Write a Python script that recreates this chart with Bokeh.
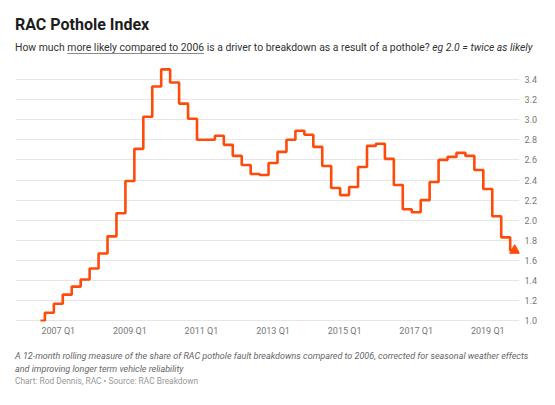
from bokeh.plotting import figure
from bokeh.models import Range1d, FixedTicker, NumeralTickFormatter, Div
from bokeh.layouts import column
from bokeh.embed import file_html
from bokeh.resources import INLINE

# ---- data ----
quarters = [
    "2006 Q3", "2006 Q4",
    "2007 Q1", "2007 Q2", "2007 Q3", "2007 Q4",
    "2008 Q1", "2008 Q2", "2008 Q3", "2008 Q4",
    "2009 Q1", "2009 Q2", "2009 Q3", "2009 Q4",
    "2010 Q1", "2010 Q2", "2010 Q3", "2010 Q4",
    "2011 Q1", "2011 Q2", "2011 Q3", "2011 Q4",
    "2012 Q1", "2012 Q2", "2012 Q3", "2012 Q4",
    "2013 Q1", "2013 Q2", "2013 Q3", "2013 Q4",
    "2014 Q1", "2014 Q2", "2014 Q3", "2014 Q4",
    "2015 Q1", "2015 Q2", "2015 Q3", "2015 Q4",
    "2016 Q1", "2016 Q2", "2016 Q3", "2016 Q4",
    "2017 Q1", "2017 Q2", "2017 Q3", "2017 Q4",
    "2018 Q1", "2018 Q2", "2018 Q3", "2018 Q4",
    "2019 Q1", "2019 Q2", "2019 Q3", "2019 Q4",
]
index_values = [
    1.00, 1.08,
    1.17, 1.26, 1.34, 1.41,
    1.52, 1.67, 1.84, 2.07,
    2.39, 2.71, 3.03, 3.33,
    3.50, 3.37, 3.16, 3.01,
    2.80, 2.80, 2.84, 2.75,
    2.64, 2.55, 2.46, 2.45,
    2.57, 2.68, 2.80, 2.89,
    2.85, 2.73, 2.54, 2.32,
    2.25, 2.33, 2.53, 2.74,
    2.76, 2.61, 2.35, 2.11,
    2.08, 2.20, 2.38, 2.60,
    2.63, 2.67, 2.64, 2.50,
    2.31, 2.04, 1.83, 1.70,
]
x_tick_years = [2007, 2009, 2011, 2013, 2015, 2017, 2019]
x_tick_labels = ["2007 Q1", "2009 Q1", "2011 Q1", "2013 Q1", "2015 Q1", "2017 Q1", "2019 Q1"]
y_ticks = [1.0, 1.2, 1.4, 1.6, 1.8, 2.0, 2.2, 2.4, 2.6, 2.8, 3.0, 3.2, 3.4]

title_text = "RAC Pothole Index"
sub_a = "How much "
sub_b = "more likely compared to 2006"
sub_c = " is a driver to breakdown as a result of a pothole? "
sub_d = "eg 2.0 = twice as likely"
note_1 = "A 12-month rolling measure of the share of RAC pothole fault breakdowns compared to 2006, corrected for seasonal weather effects"
note_2 = "and improving longer term vehicle reliability"
credit = "Chart: Rod Dennis, RAC \u2022 Source: RAC Breakdown"

x_vals = [int(q[:4]) + (int(q[-1]) - 1) / 4 for q in quarters]

LINE = "#ff4b0a"
FONT = "Roboto"
W = 555
HEAD_H, FIG_H, FOOT_H = 60, 281, 64
FL, FR = 15, 519          # frame left/right (page px)
FT, FB = 66, 321          # frame top/bottom (page px)

p = figure(
    width=W, height=FIG_H, output_backend="svg", toolbar_location=None,
    x_range=Range1d(2005.804, 2019.886), y_range=Range1d(0.993, 3.529),
    y_axis_location="right",
    min_border_left=FL, min_border_right=W - FR,
    min_border_top=FT - HEAD_H, min_border_bottom=HEAD_H + FIG_H - FB,
)
p.outline_line_color = None
p.background_fill_color = "white"
p.border_fill_color = "white"

p.step(x_vals, index_values, mode="center", line_color=LINE, line_width=2.6)
p.scatter([x_vals[-1]], [index_values[-1]], marker="triangle", size=10,
          fill_color=LINE, line_color=LINE)

xa = p.xaxis[0]
xa.ticker = FixedTicker(ticks=x_tick_years)
xa.major_label_overrides = {t: l for t, l in zip(x_tick_years, x_tick_labels)}
ya = p.yaxis[0]
ya.ticker = FixedTicker(ticks=y_ticks)
ya.formatter = NumeralTickFormatter(format="0.0")
for ax in (xa, ya):
    ax.axis_line_color = None
    ax.major_tick_line_color = None
    ax.minor_tick_line_color = None
    ax.major_tick_out = 0
    ax.major_tick_in = 0
    ax.major_label_text_font = FONT
    ax.major_label_text_font_size = "9px"
    ax.major_label_text_color = "#777777"
xa.major_label_standoff = 4
ya.major_label_standoff = 5

p.xgrid.visible = False
p.ygrid.ticker = FixedTicker(ticks=y_ticks)
p.ygrid.grid_line_color = "#e6e6e6"
p.ygrid.grid_line_width = 1

base = "position:absolute;left:15px;white-space:nowrap;margin:0;padding:0;font-family:Roboto,sans-serif;"
head_html = (
    f'<div style="position:relative;width:{W}px;height:{HEAD_H}px;overflow:hidden;">'
    f'<div style="{base}top:14.5px;font-size:16px;line-height:20px;font-weight:bold;color:#1d1d1d;">{title_text}</div>'
    f'<div style="{base}top:42.15px;font-size:10.4px;line-height:12px;color:#333333;">{sub_a}'
    f'<span style="text-decoration:underline;text-decoration-color:#8a8a8a;text-decoration-thickness:1px;text-underline-offset:2px;">{sub_b}</span>'
    f'{sub_c}<i>{sub_d}</i></div>'
    '</div>'
)
foot_html = (
    f'<div style="position:relative;width:{W}px;height:{FOOT_H}px;overflow:hidden;">'
    f'<div style="{base}top:10.2px;font-size:9px;line-height:11px;font-style:italic;color:#666666;">{note_1}</div>'
    f'<div style="{base}top:22.6px;font-size:9px;line-height:11px;font-style:italic;color:#666666;">{note_2}</div>'
    f'<div style="{base}top:35.4px;font-size:8.4px;line-height:10px;color:#999999;">{credit}</div>'
    '</div>'
)
head = Div(text=head_html, width=W, height=HEAD_H, margin=0)
foot = Div(text=foot_html, width=W, height=FOOT_H, margin=0)

layout = column(head, p, foot, spacing=0)

open("out.html", "w").write(file_html(layout, INLINE))
